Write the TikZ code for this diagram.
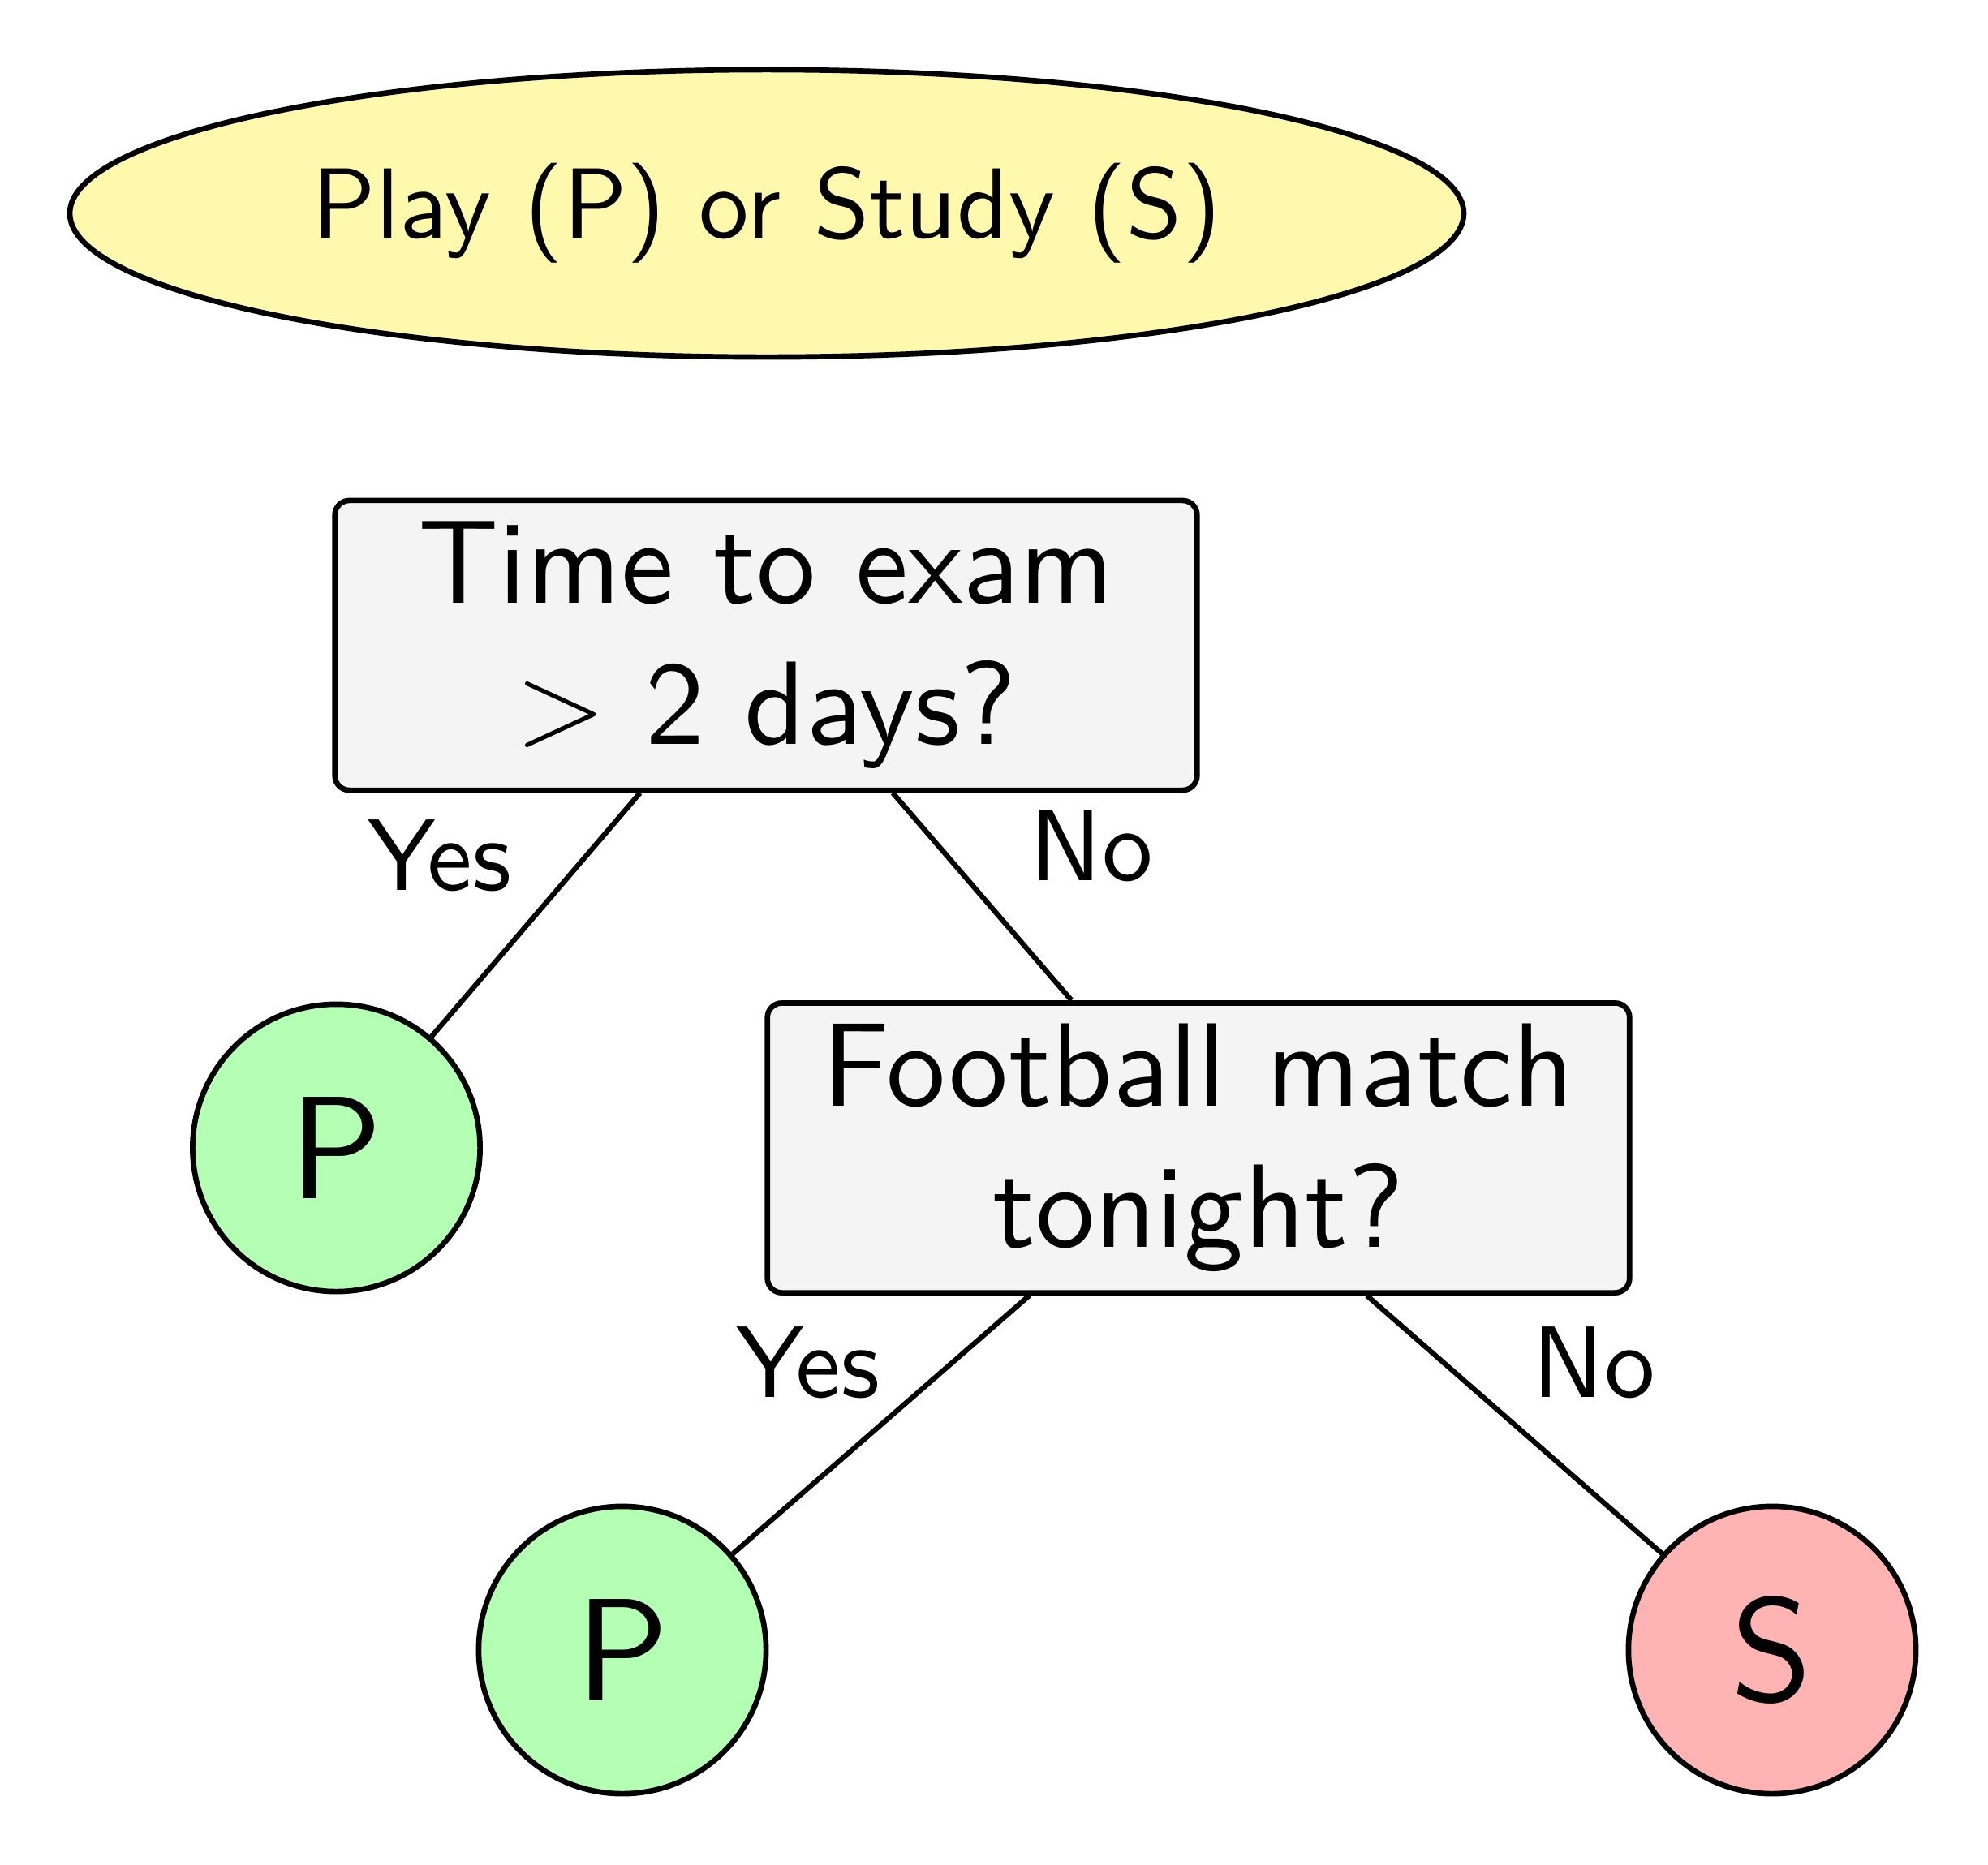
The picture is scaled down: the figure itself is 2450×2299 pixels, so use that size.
\RequirePackage{fix-cm}
\documentclass[tikz,border=0pt]{standalone}
\usepackage{fontspec}
\setsansfont{lmsans10-regular.otf}
\usetikzlibrary{shapes.geometric}
\definecolor{startyellow}{RGB}{255,249,174}
\definecolor{boxgray}{RGB}{244,244,244}
\definecolor{leafgreen}{RGB}{179,255,179}
\definecolor{leafred}{RGB}{255,179,179}
\begin{document}
\begin{tikzpicture}[x=0.01cm,y=-0.01cm,
  startnode/.style={ellipse, draw, line width=1.9pt, fill=startyellow,
    minimum width=17.17cm, minimum height=3.54cm, inner sep=0pt,
    font=\sffamily\fontsize{35}{42}\selectfont},
  question/.style={rectangle, rounded corners=0.18cm, draw, line width=1.9pt,
    fill=boxgray, minimum width=10.62cm, minimum height=3.57cm, align=center,
    inner sep=0pt, font=\sffamily\fontsize{41.6}{49.5}\selectfont},
  leafP/.style={circle, draw, line width=1.9pt, fill=leafgreen,
    minimum size=3.54cm, inner sep=0pt,
    font=\sffamily\fontsize{51.2}{60}\selectfont},
  leafS/.style={leafP, fill=leafred},
  branch/.style={line width=1.8pt},
  lbl/.style={font=\sffamily\fontsize{35.6}{43}\selectfont, inner sep=0pt, anchor=base}]

\useasboundingbox (0,0) rectangle (2450,2299);

\node[startnode] (root) at (945,263) {Play (P) or Study (S)};
\node[question] (q1) at (944,795.5) {Time to exam\\$>$ 2 days?};
\node[question] (q2) at (1477,1415) {Football match\\tonight?};
\node[leafP] (p1) at (414.5,1415) {P};
\node[leafP] (p2) at (767,2034) {P};
\node[leafS] (s1) at (2184,2034) {S};

\draw[branch] (q1) -- (p1);
\draw[branch] (q1) -- (q2);
\draw[branch] (q2) -- (p2);
\draw[branch] (q2) -- (s1);

\node[lbl] (y1) at (542,1097) {Yes};
\node[lbl] (n1) at (1345,1085) {No};
\node[lbl] (y2) at (996,1722) {Yes};
\node[lbl] (n2) at (1964,1722) {No};
\end{tikzpicture}
\end{document}
